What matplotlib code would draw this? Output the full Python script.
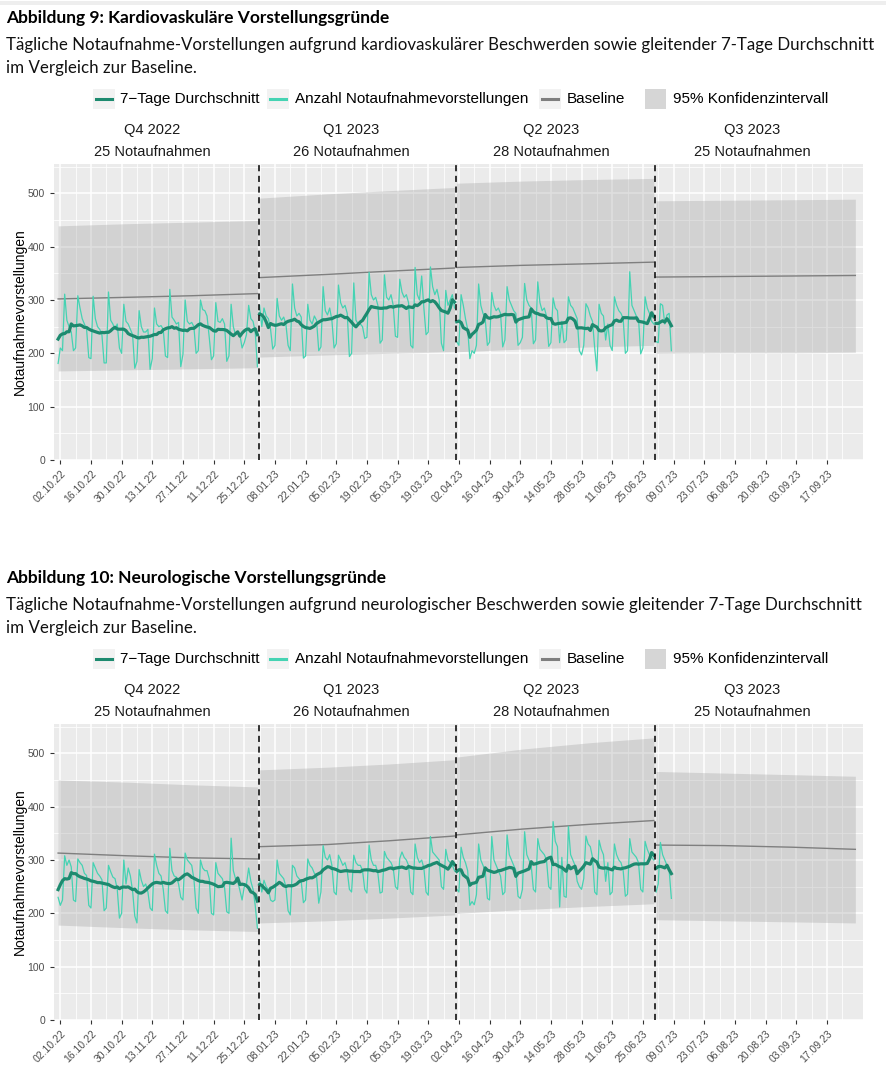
import numpy as np
import pandas as pd
import matplotlib
matplotlib.use("Agg")
import matplotlib.pyplot as plt
import matplotlib.dates as mdates
from matplotlib.lines import Line2D
from matplotlib.patches import Rectangle

W, H = 887, 1080

# --- Daten -----------------------------------------------------------------
quartal_start = ["2022-10-01", "2023-01-01", "2023-04-01", "2023-07-01"]
quartal_name = ["Q4 2022", "Q1 2023", "Q2 2023", "Q3 2023"]
quartal_na = ["25 Notaufnahmen", "26 Notaufnahmen", "28 Notaufnahmen", "25 Notaufnahmen"]
quartal_mitte = ["2022-11-13", "2023-02-12", "2023-05-14", "2023-08-14"]
quartal_grenze = ["2022-12-31 12:00", "2023-03-31 12:00", "2023-06-30 12:00"]

# Stuetzstellen fuer Baseline / Konfidenzintervall (je Quartal)
band_daten = [["2022-10-01", "2022-11-01", "2022-12-01", "2022-12-31"],
              ["2023-01-01", "2023-02-01", "2023-03-01", "2023-03-31"],
              ["2023-04-01", "2023-05-01", "2023-06-01", "2023-06-30"],
              ["2023-07-01", "2023-08-01", "2023-09-01", "2023-09-30"]]

# Abbildung 9: kardiovaskulaer (taeglich, Sa..Fr)
kardio_q4 = [181, 210, 205, 311, 262, 250, 240,
             205, 210, 308, 285, 265, 255, 245,
             192, 190, 307, 265, 250, 245, 235,
             182, 182, 315, 262, 255, 245, 255,
             210, 200, 292, 260, 255, 245, 235,
             172, 185, 280, 250, 240, 240, 245,
             170, 190, 285, 255, 250, 252, 245,
             195, 192, 320, 268, 262, 255, 258,
             175, 198, 300, 260, 255, 258, 250,
             200, 205, 300, 282, 280, 270, 230,
             188, 195, 295, 260, 258, 265, 255,
             185, 195, 292, 250, 235, 240, 235,
             210, 220, 235, 290, 265, 260, 240,
             175]
kardio_q1 = [290, 250, 285, 270, 265, 245,
             208, 215, 303, 270, 262, 268, 255,
             215, 205, 330, 285, 270, 275, 268,
             191, 195, 292, 262, 255, 270, 262,
             205, 212, 325, 280, 272, 285, 262,
             210, 218, 328, 295, 285, 290, 275,
             194, 200, 332, 262, 255, 255, 250,
             228, 230, 352, 310, 300, 305, 290,
             219, 225, 347, 305, 300, 310, 290,
             232, 230, 339, 315, 305, 310, 295,
             215, 210, 361, 310, 300, 345, 285,
             235, 240, 362, 325, 310, 320, 300,
             219, 205, 318, 290, 300, 310, 285]
kardio_q2 = [222, 215, 310, 290, 265, 245, 190,
             205, 200, 215, 330, 290, 275, 265,
             215, 221, 314, 290, 280, 285, 275,
             212, 225, 325, 300, 290, 280, 275,
             215, 220, 230, 331, 300, 290, 285,
             218, 225, 334, 295, 280, 285, 270,
             213, 220, 304, 285, 280, 220, 260,
             220, 225, 306, 290, 285, 275, 265,
             205, 197, 215, 293, 285, 270, 260,
             210, 167, 292, 275, 270, 225, 255,
             215, 205, 306, 290, 280, 275, 265,
             200, 205, 353, 290, 280, 270, 265,
             199, 210, 306, 285, 275, 260, 255]
kardio_q3 = [222, 220, 293, 290, 255, 272, 275, 205]

kardio_base = [[302, 305, 308, 312], [342, 348, 354, 360],
               [361, 365, 368, 371], [343, 344, 345, 346]]
kardio_ober = [[439, 443, 446, 449], [491, 499, 505, 511],
               [519, 523, 526, 528], [486, 487, 488, 489]]
kardio_unter = [[167, 169, 171, 173], [193, 197, 200, 203],
                [203, 208, 212, 215], [200, 201, 201, 202]]

# Abbildung 10: neurologisch
neuro_q4 = [230, 215, 225, 308, 290, 300, 287,
            225, 222, 302, 295, 290, 275, 271,
            215, 210, 295, 285, 275, 270, 263,
            205, 210, 290, 278, 268, 265, 245,
            191, 200, 300, 255, 285, 270, 242,
            195, 182, 282, 262, 250, 255, 240,
            210, 205, 311, 290, 275, 270, 245,
            205, 200, 322, 280, 270, 268, 255,
            230, 225, 313, 300, 295, 290, 265,
            210, 200, 300, 285, 280, 280, 265,
            200, 197, 295, 275, 270, 265, 248,
            203, 200, 341, 280, 265, 260, 243,
            225, 250, 255, 285, 260, 245, 215,
            172]
neuro_q1 = [265, 240, 262, 250, 245, 225,
            222, 225, 300, 275, 270, 265, 250,
            205, 197, 290, 285, 270, 265, 260,
            220, 225, 302, 290, 285, 275, 270,
            219, 240, 327, 305, 300, 310, 290,
            240, 235, 309, 300, 290, 295, 280,
            245, 240, 309, 295, 290, 290, 280,
            245, 238, 328, 300, 290, 290, 275,
            238, 240, 316, 305, 300, 295, 285,
            250, 245, 303, 315, 305, 300, 290,
            240, 235, 330, 305, 295, 300, 285,
            240, 234, 344, 315, 310, 305, 300,
            250, 245, 320, 300, 295, 290, 280]
neuro_q2 = [245, 240, 324, 305, 295, 280, 215,
            222, 216, 235, 330, 300, 290, 280,
            228, 225, 344, 300, 290, 280, 270,
            235, 240, 347, 310, 300, 290, 280,
            232, 228, 245, 353, 310, 300, 290,
            245, 240, 340, 320, 315, 310, 300,
            250, 245, 372, 335, 325, 212, 305,
            232, 230, 363, 310, 300, 290, 260,
            250, 245, 265, 345, 330, 325, 305,
            240, 235, 337, 320, 310, 260, 295,
            235, 240, 330, 310, 300, 295, 280,
            232, 236, 340, 315, 310, 305, 295,
            245, 240, 335, 320, 310, 305, 300]
neuro_q3 = [240, 255, 333, 310, 300, 290, 280, 228]

neuro_base = [[313, 308, 304, 302], [325, 329, 336, 345],
              [347, 358, 367, 374], [328, 327, 324, 320]]
neuro_ober = [[450, 446, 441, 437], [469, 474, 480, 488],
              [493, 508, 520, 529], [466, 463, 460, 457]]
neuro_unter = [[178, 173, 169, 166], [182, 186, 191, 197],
               [200, 207, 213, 218], [188, 186, 184, 182]]

titel = ["Abbildung 9: Kardiovaskuläre Vorstellungsgründe",
         "Abbildung 10: Neurologische Vorstellungsgründe"]
untertitel = [["Tägliche Notaufnahme-Vorstellungen aufgrund kardiovaskulärer Beschwerden sowie gleitender 7-Tage Durchschnitt",
               "im Vergleich zur Baseline."],
              ["Tägliche Notaufnahme-Vorstellungen aufgrund neurologischer Beschwerden sowie gleitender 7-Tage Durchschnitt",
               "im Vergleich zur Baseline."]]
legende = ["7−Tage Durchschnitt", "Anzahl Notaufnahmevorstellungen", "Baseline", "95% Konfidenzintervall"]

c_avg = "#1d8a6f"
c_day = "#45d3b3"
c_base = "#7f7f7f"

fig = plt.figure(figsize=(W / 100, H / 100), dpi=100)


def fx(px):
    return px / W


def fy(py):
    return 1 - py / H


def panel(off, daily, base, ober, unter, tit, sub):
    # Ueberschriften
    fig.text(fx(6), fy(18 + off), tit, fontfamily="Lato", fontweight="bold",
             fontsize=12.5, va="center", color="black")
    fig.text(fx(6), fy(45 + off), sub[0], fontfamily="Lato", fontsize=12.2,
             va="center", color="#111111")
    fig.text(fx(6), fy(68 + off), sub[1], fontfamily="Lato", fontsize=12.2,
             va="center", color="#111111")

    # Legende
    ly = 99 + off
    keys = [(93, "line", c_avg, 120), (267, "line", c_day, 295),
            (539, "line", c_base, 567), (645, "fill", None, 673)]
    for (kx, typ, col, tx), lab in zip(keys, legende):
        if typ == "line":
            fig.add_artist(Rectangle((fx(kx), fy(ly + 10)), 22 / W, 20 / H,
                                     transform=fig.transFigure, color="#f2f2f2", lw=0))
            fig.add_artist(Line2D([fx(kx + 3), fx(kx + 19)], [fy(ly), fy(ly)],
                                  transform=fig.transFigure, color=col, lw=2.2))
        else:
            fig.add_artist(Rectangle((fx(kx), fy(ly + 10)), 21 / W, 20 / H,
                                     transform=fig.transFigure, color="#d6d6d6", lw=0))
        fig.text(fx(tx), fy(ly), lab, fontfamily="Liberation Sans", fontsize=11,
                 va="center", color="black")

    ax = fig.add_axes([fx(54), fy(460 + off), (863 - 54) / W, 296 / H])
    ax.set_facecolor("#ebebeb")
    for s in ax.spines.values():
        s.set_visible(False)

    for i in range(4):
        bd = pd.to_datetime(band_daten[i])
        ax.fill_between(bd, unter[i], ober[i], color="#999999", alpha=0.3, lw=0, zorder=1)
        ax.plot(bd, base[i], color=c_base, lw=1.0, zorder=2)
        tage = pd.date_range(quartal_start[i], periods=len(daily[i]), freq="D")
        werte = pd.Series(daily[i], index=tage)
        ax.plot(tage, werte.values, color=c_day, lw=0.9, zorder=3)
        mittel = werte.rolling(7, center=True, min_periods=1).mean()
        ax.plot(tage, mittel.values, color=c_avg, lw=2.3, zorder=4)

    for g in quartal_grenze:
        ax.axvline(pd.Timestamp(g), color="black", lw=1.1, ls=(0, (4, 3)), zorder=5)

    for q, na, m in zip(quartal_name, quartal_na, quartal_mitte):
        tr = ax.get_xaxis_transform()
        ax.text(pd.Timestamp(m), 1.115, q, transform=tr, ha="center", va="center",
                fontfamily="Liberation Sans", fontsize=10.5, color="#1a1a1a")
        ax.text(pd.Timestamp(m), 1.041, na, transform=tr, ha="center", va="center",
                fontfamily="Liberation Sans", fontsize=10.5, color="#1a1a1a")

    ax.set_xlim(pd.Timestamp("2022-09-29 03:00"), pd.Timestamp("2023-10-03 12:00"))
    ax.set_ylim(0, 555)
    major = pd.date_range("2022-10-02", "2023-09-17", freq="14D")
    minor = pd.date_range("2022-10-09", "2023-09-24", freq="14D")
    ax.set_xticks(major)
    ax.set_xticks(minor, minor=True)
    ax.xaxis.set_major_formatter(mdates.DateFormatter("%d.%m.%y"))
    ax.set_yticks([0, 100, 200, 300, 400, 500])
    ax.set_yticks([50, 150, 250, 350, 450, 550], minor=True)
    ax.set_axisbelow(True)
    ax.grid(which="major", color="white", lw=1.1)
    ax.grid(which="minor", color="white", lw=0.55)
    ax.tick_params(which="major", length=3, color="#333333", labelsize=7.5,
                   labelcolor="#4d4d4d", width=0.8)
    ax.tick_params(which="minor", length=0)
    for lab in ax.get_xticklabels():
        lab.set_rotation(45)
        lab.set_ha("right")
        lab.set_rotation_mode("anchor")
        lab.set_fontfamily("Liberation Sans")
    for lab in ax.get_yticklabels():
        lab.set_fontfamily("Liberation Sans")
    ax.set_ylabel("Notaufnahmevorstellungen", fontfamily="Liberation Sans",
                  fontsize=10, color="black")
    ax.yaxis.set_label_coords(-0.034, 0.5)
    return ax


# trennlinie oben
fig.add_artist(Rectangle((0, fy(5)), 1, 4 / H, transform=fig.transFigure,
                         color="#eeeeee", lw=0))

panel(0, [kardio_q4, kardio_q1, kardio_q2, kardio_q3], kardio_base, kardio_ober,
      kardio_unter, titel[0], untertitel[0])
panel(560, [neuro_q4, neuro_q1, neuro_q2, neuro_q3], neuro_base, neuro_ober,
      neuro_unter, titel[1], untertitel[1])

fig.savefig("out.png", dpi=100)
